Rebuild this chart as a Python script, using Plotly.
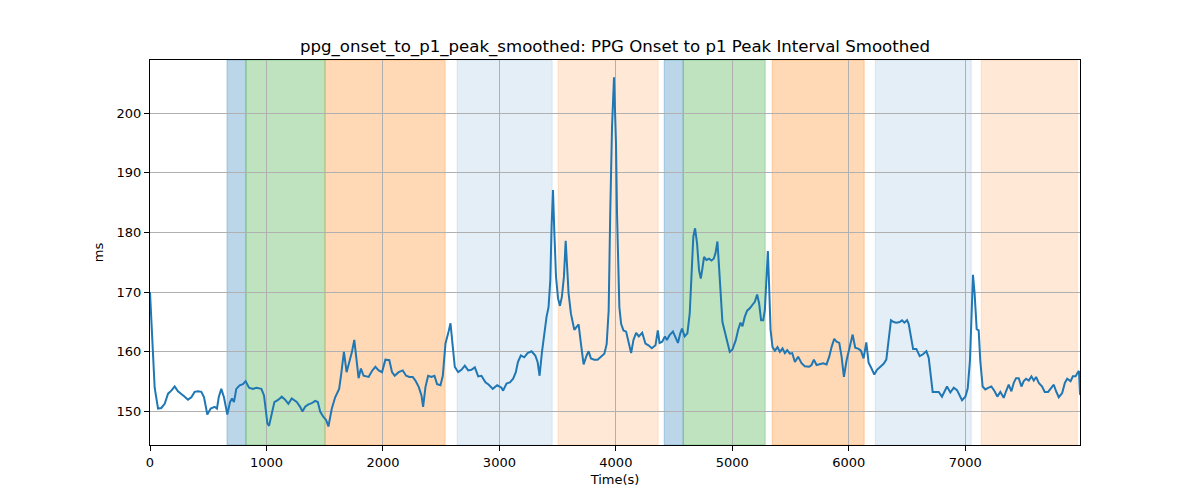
import plotly.graph_objects as go

# ---- data ----
time_s = [0, 25, 40, 69, 97, 126, 155, 183, 212, 240, 269, 298, 326, 355, 383, 412, 441, 464, 492, 521,
          555, 575, 590, 612, 635, 664, 687, 704, 721, 741, 770, 798, 821, 850, 884, 913, 956, 979,
          1008, 1022, 1045, 1068, 1103, 1131, 1160, 1188, 1217, 1260, 1289, 1309, 1332, 1360, 1389, 1418,
          1441, 1461, 1489, 1512, 1532, 1561, 1590, 1624, 1642, 1665, 1688, 1711, 1734, 1754, 1771, 1791,
          1811, 1834, 1877, 1906, 1935, 1963, 1992,
          2021, 2055, 2078, 2101, 2135, 2170, 2199, 2227, 2256, 2279, 2308, 2331, 2345, 2365, 2388, 2416,
          2442, 2465, 2494, 2514, 2537, 2560, 2580, 2600, 2617, 2646, 2674, 2703, 2732, 2760, 2789, 2818,
          2846, 2880, 2909, 2943, 2981,
          3018, 3032, 3061, 3090, 3118, 3141, 3159, 3184, 3213, 3242, 3276, 3308, 3328, 3345, 3365, 3385,
          3405, 3422, 3437, 3448, 3460, 3471, 3486, 3503, 3520, 3537, 3554, 3569, 3580, 3594, 3614, 3643,
          3663, 3680, 3700, 3723, 3749, 3766, 3786, 3815, 3843, 3872, 3901, 3921, 3938, 3952, 3967, 3984,
          4001, 4010, 4018, 4030,
          4045, 4065, 4088, 4111, 4131, 4151, 4174, 4197, 4226, 4254, 4280, 4309, 4340, 4360, 4375, 4398,
          4421, 4438, 4461, 4490, 4513, 4533, 4553, 4568, 4591, 4614, 4634, 4651, 4665, 4680, 4697, 4714,
          4729, 4743, 4757, 4777, 4800, 4820, 4840, 4855, 4872, 4886, 4900, 4915, 4935, 4955, 4978, 5001,
          5030, 5050, 5070, 5087, 5107, 5127, 5150, 5173, 5193, 5213, 5230, 5247, 5265, 5279, 5293, 5305,
          5316, 5328, 5345, 5365, 5388, 5408, 5431, 5451, 5471, 5494, 5514, 5537, 5565, 5594, 5622, 5660,
          5680, 5700, 5723, 5752, 5780, 5809, 5832, 5852, 5875, 5895, 5918, 5938, 5958, 5981, 6004,
          6033, 6055, 6084, 6104, 6127, 6150, 6170, 6193, 6219, 6242, 6271, 6299, 6322, 6342, 6362, 6385,
          6408, 6437, 6457, 6477, 6500, 6514, 6534, 6552, 6580, 6609, 6637, 6666, 6686, 6700, 6720, 6743,
          6772, 6800, 6820, 6843, 6872, 6901, 6929, 6952, 6972, 7001,
          7021, 7040, 7052, 7066, 7080, 7098, 7115, 7129, 7149, 7172, 7201, 7224, 7252, 7275, 7301, 7330,
          7350, 7373, 7396, 7416, 7436, 7459, 7482, 7502, 7522, 7545, 7568, 7588, 7608, 7631, 7660, 7682,
          7711, 7740, 7760, 7780, 7803, 7832, 7855, 7875, 7904, 7924, 7947, 7964, 7976, 7985]

interval_ms = [170, 158.5, 154, 150.5, 150.6, 151.3, 153, 153.5, 154.2, 153.4, 153, 152.5, 152, 152.4, 153.3, 153.4, 153.3, 152.4, 149.5, 150.5,
               150.8, 150.5, 152.4, 153.8, 152.4, 149.5, 151.6, 152.2, 151.6, 153.8, 154.4, 154.6, 155.1, 154, 153.8, 154, 153.8, 152.7,
               148, 147.6, 149.6, 151.6, 152, 152.5, 152, 151.3, 152.2, 151.6, 150.8, 150, 150.8, 151.2, 151.4, 151.8,
               151.6, 150, 149.1, 148.6, 147.5, 150.5, 152.4, 153.8, 156.3, 160, 156.6, 158.3, 160, 162, 158.6, 155.6,
               157.2, 156, 155.8, 156.8, 157.5, 156.9, 156.6,
               158.7, 158.6, 156.6, 156, 156.6, 156.9, 156, 155.8, 155.8, 155.2, 154.1, 152.7, 150.8, 154.1, 156, 155.8,
               156, 154.6, 154.4, 156, 161.4, 163.1, 164.8, 160.8, 157.5, 156.6, 157, 157.7, 156.9, 157, 157.4, 155.9,
               156, 154.9, 154.5, 153.8, 154.4,
               154, 153.5, 154.7, 154.9, 155.5, 156.6, 158.3, 159.4, 159.1, 159.8, 160.1, 159.4, 158.3, 156, 159.9, 163,
               165.9, 167.5, 172, 181, 187.1, 180.4, 172.6, 169, 167.7, 169.3, 172.6, 178.6, 175.4, 169.8, 166.4, 163.7,
               164.2, 164.6, 161.4, 157.9, 159.4, 160.1, 158.9, 158.7, 158.7, 159.2, 159.7, 161.3, 166.9, 183.7, 197.7, 206,
               195, 183, 174, 167.5,
               164.7, 163.6, 163.4, 161.7, 159.8, 162, 163.2, 162.6, 163.2, 161.4, 161.1, 160.6, 161.1, 163.6, 161.5, 161.7,
               162.6, 162, 162.8, 163.4, 162.5, 161.5, 163.1, 163.9, 162.6, 163.1, 166.4, 172.6, 179.3, 180.7, 178.2, 173.7,
               172.3, 174, 175.9, 175.4, 175.6, 175.3, 175.6, 176.5, 178.5, 174.2, 168.7, 165, 163.4, 161.7, 160, 160.4,
               162, 163.7, 164.9, 164.3, 165.9, 166.9, 167.3, 167.9, 168.4, 169.6, 168.1, 165.3, 165.3, 167, 171.5, 176.9,
               171, 163.7, 160.8, 160.2, 160.8, 160, 160.6, 159.8, 160.3, 159.7, 159.8, 158.3, 159.2, 158.1, 157.6, 157.5,
               157.8, 158.7, 157.8, 158, 158.1, 157.9, 159.2, 160.8, 162.2, 161.7, 161.5, 159.2, 155.8, 158.6, 160.3,
               162.9, 160.7, 160.5, 160.2, 158.9, 161.6, 158.2, 157.3, 156.2, 157, 157.6, 158, 158.7, 162.5, 165.3, 165,
               164.9, 165, 165.3, 164.9, 165.3, 164.7, 162.5, 160.5, 160.5, 159.3, 159.6, 160.1, 159, 156.7, 153.3, 153.3,
               153.3, 152.5, 153.3, 154.2, 153.2, 154, 153.6, 152.7, 151.9, 152.5,
               153.9, 158.5, 165.3, 172.9, 169.8, 163.8, 163.6, 158.5, 154.2, 153.7, 154, 154.2, 153.4, 152.5, 153.3, 152.3,
               153.4, 154.5, 153.4, 154.8, 155.6, 155.6, 154.2, 155.1, 155.5, 155.2, 155.9, 155.2, 155.8, 154.8, 154.2, 153.3,
               153.3, 154.1, 154.5, 153.4, 152.4, 153.1, 154.8, 155.5, 155.1, 155.9, 155.9, 156.5, 156.8, 152.8]

# shaded phases: start, end, kind
span_starts = [661, 824, 1503, 2637, 3504, 4415, 4578, 5342, 6227, 7137]
span_ends = [824, 1503, 2534, 3453, 4363, 4578, 5282, 6132, 7051, 7962]
span_kinds = ["blue", "green", "orange", "lightblue", "lightorange",
              "blue", "green", "orange", "lightblue", "lightorange"]

x_ticks = [0, 1000, 2000, 3000, 4000, 5000, 6000, 7000]
y_ticks = [150, 160, 170, 180, 190, 200]

span_colors = {
    "blue": "rgba(31,119,180,0.3)",
    "green": "rgba(44,160,44,0.3)",
    "orange": "rgba(255,127,14,0.3)",
    "lightblue": "rgba(31,119,180,0.12)",
    "lightorange": "rgba(255,127,14,0.17)",
}

fig = go.Figure()
fig.add_trace(go.Scatter(x=time_s, y=interval_ms, mode="lines",
                         line=dict(color="#1f77b4", width=2), showlegend=False))

for s, e, k in zip(span_starts, span_ends, span_kinds):
    fig.add_vrect(x0=s, x1=e, fillcolor=span_colors[k], line=dict(color=span_colors[k], width=1),
                  layer="below")

font = "DejaVu Sans, sans-serif"
fig.update_layout(
    width=1200, height=500,
    margin=dict(l=142, r=128, t=52, b=63),
    paper_bgcolor="white", plot_bgcolor="white",
    font=dict(family=font, size=13, color="black"),
    title=dict(text="ppg_onset_to_p1_peak_smoothed: PPG Onset to p1 Peak Interval Smoothed",
               x=607 / 1200, xanchor="center", y=1 - 38 / 500, yanchor="middle", yref="container",
               font=dict(family=font, size=16.6, color="black")),
)
fig.update_xaxes(range=[0, 7985], tickvals=x_ticks, ticktext=[str(v) for v in x_ticks],
                 showgrid=True, gridcolor="#b0b0b0", gridwidth=1,
                 showline=True, linecolor="black", linewidth=1, mirror=True,
                 ticks="outside", ticklen=5, tickcolor="black", zeroline=False,
                 tickfont=dict(family=font, size=13),
                 title=dict(text="Time(s)", font=dict(family=font, size=13), standoff=6))
fig.update_yaxes(range=[144.4, 208.9], tickvals=y_ticks, ticktext=[str(v) for v in y_ticks],
                 showgrid=True, gridcolor="#b0b0b0", gridwidth=1,
                 showline=True, linecolor="black", linewidth=1, mirror=True,
                 ticks="outside", ticklen=5, tickcolor="black", zeroline=False,
                 tickfont=dict(family=font, size=13),
                 title=dict(text="ms", font=dict(family=font, size=13), standoff=10))

fig.write_html("out.html")
